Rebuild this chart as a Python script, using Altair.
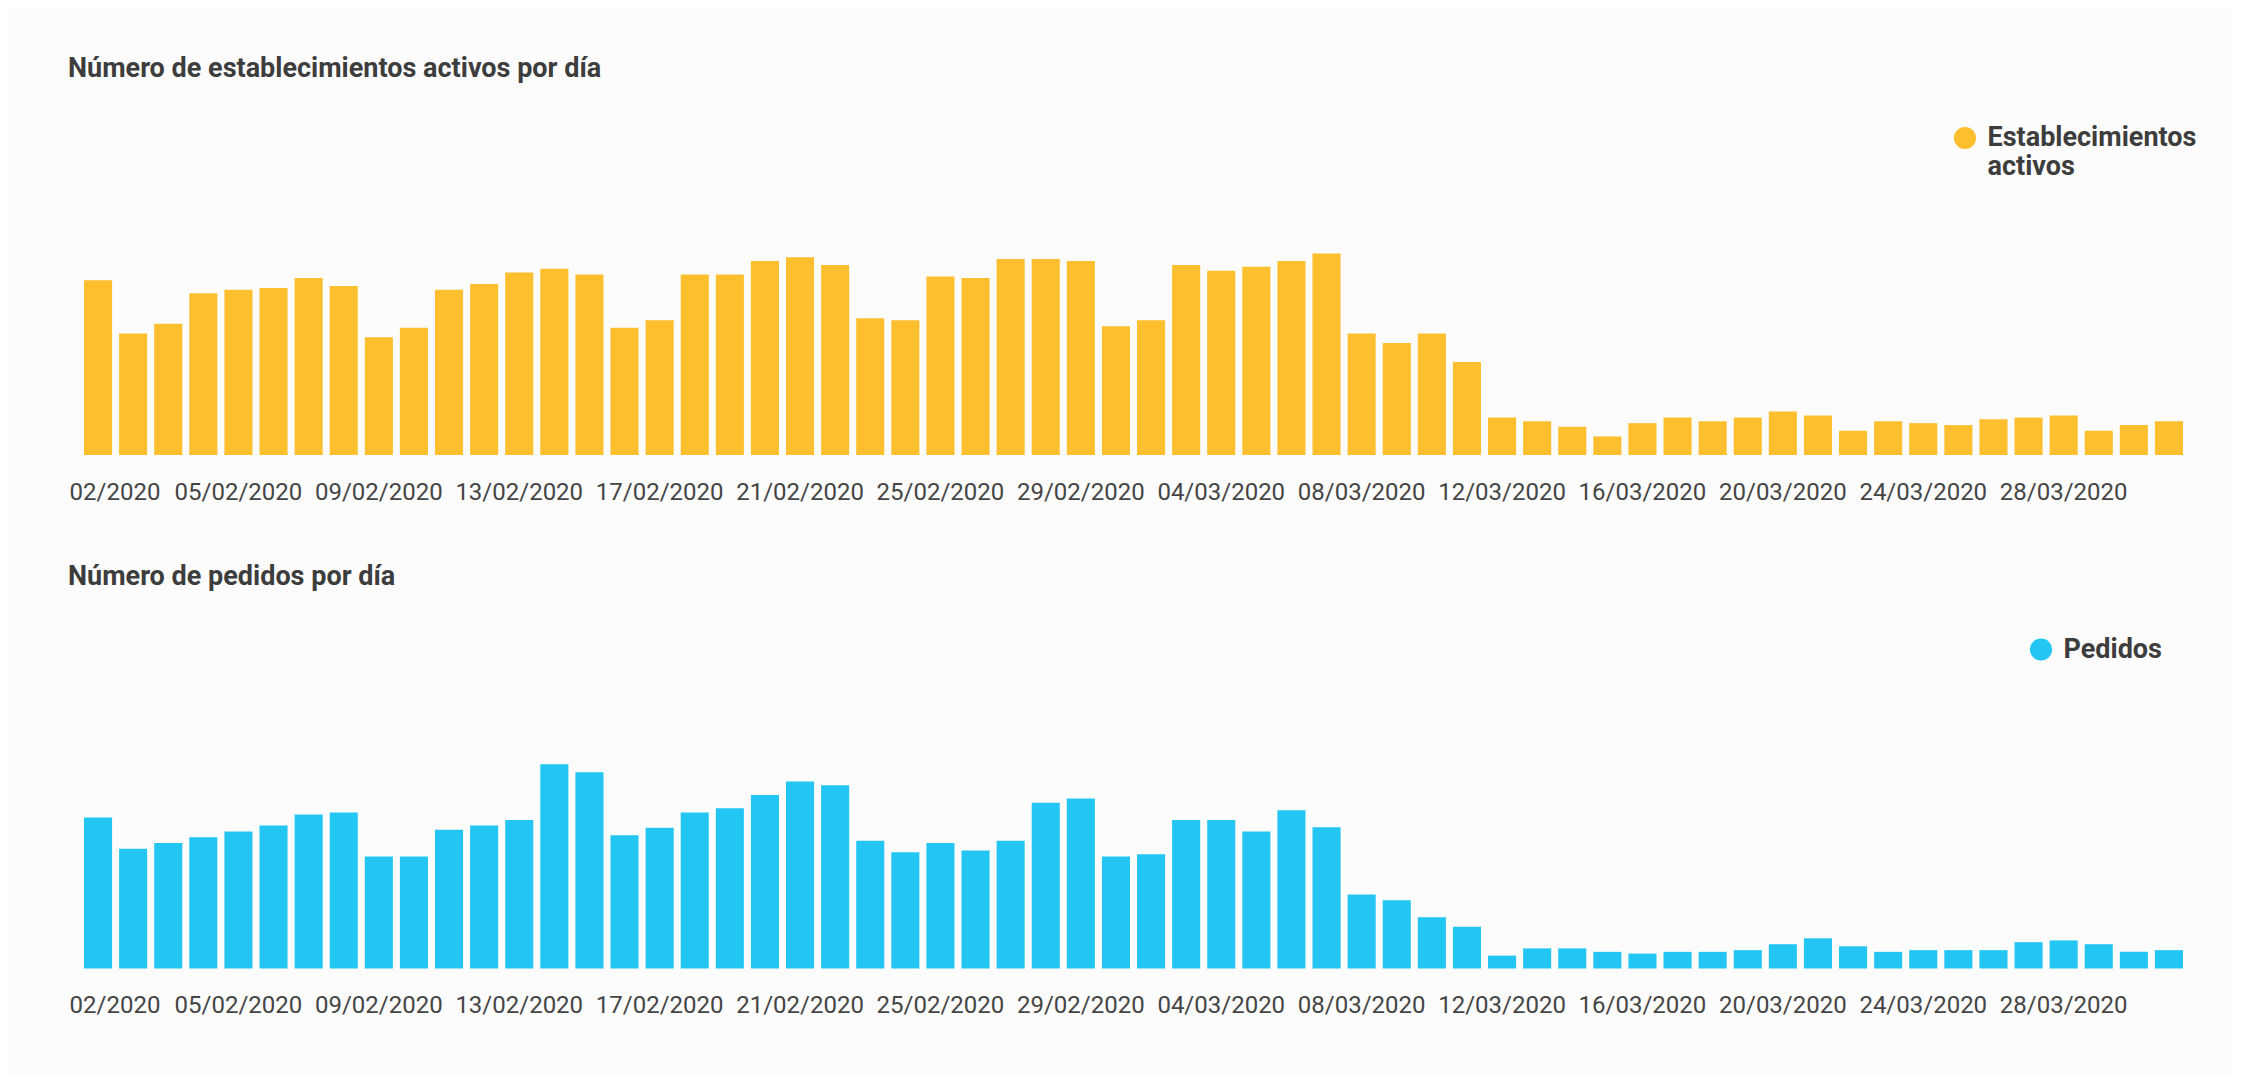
import altair as alt
import pandas as pd

# Categories: one bar per day, 01/02/2020 .. 31/03/2020
fechas = [d.strftime("%d/%m/%Y") for d in pd.date_range("2020-02-01", "2020-03-31", freq="D")]
etiquetas = fechas[::4]

# Values (relative units, no y axis in the original)
establecimientos = [526, 366, 395, 487, 498, 503, 533, 509, 355, 383,
                    498, 515, 550, 561, 544, 383, 406, 544, 544, 584,
                    596, 572, 412, 406, 538, 533, 590, 590, 584, 388,
                    406, 572, 555, 567, 584, 607, 366, 337, 366, 280,
                    113, 102, 85, 56, 96, 113, 102, 113, 131, 119,
                    73, 102, 96, 90, 108, 113, 119, 73, 90, 102]
pedidos = [435, 345, 362, 378, 395, 412, 444, 450, 323, 323,
           400, 412, 428, 589, 566, 384, 406, 450, 462, 500,
           539, 528, 368, 335, 362, 340, 368, 478, 490, 323,
           329, 428, 428, 395, 456, 407, 213, 197, 148, 120,
           37, 58, 58, 48, 43, 48, 48, 53, 70, 87,
           64, 48, 53, 53, 53, 76, 81, 70, 48, 53]

series = ["Establecimientos activos", "Pedidos"]
colores = ["#FDBF2D", "#23C6F3"]
titulos = ["Número de establecimientos activos por día", "Número de pedidos por día"]

TXT = "#3d3d3d"
W, H = 2099, 332


def panel(valores, serie, color, titulo, ymax, lx, ly, toff):
    df = pd.DataFrame({"fecha": fechas, "valor": valores, "serie": serie})
    return (
        alt.Chart(
            df,
            title=alt.TitleParams(
                titulo, anchor="start", frame="group", dx=-16, offset=toff,
                baseline="alphabetic", font="Roboto", fontSize=27,
                fontWeight="bold", color=TXT,
            ),
        )
        .mark_bar(strokeWidth=0)
        .encode(
            x=alt.X(
                "fecha:O", sort=None, title=None,
                scale=alt.Scale(paddingInner=0.2, paddingOuter=0),
                axis=alt.Axis(
                    values=etiquetas, domain=False, ticks=False, tickSize=0,
                    labelPadding=25, labelAngle=0, labelFont="Roboto",
                    labelFontSize=24, labelColor="#454545", labelOverlap=False,
                    labelExpr="datum.value == '01/02/2020' ? '02/2020' : datum.label",
                    labelOffset={"condition": {"test": "datum.value == '01/02/2020'", "value": 17}, "value": 0},
                    grid=False,
                ),
            ),
            y=alt.Y("valor:Q", axis=None, scale=alt.Scale(domain=[0, ymax])),
            color=alt.Color(
                "serie:N",
                scale=alt.Scale(domain=[serie], range=[color]),
                legend=alt.Legend(
                    orient="none", legendX=lx, legendY=ly, title=None,
                    symbolType="circle", symbolSize=490, symbolStrokeWidth=0,
                    labelFont="Roboto", labelFontWeight="bold", labelFontSize=27,
                    labelColor=TXT, labelOffset=9, padding=0, labelLimit=500,
                    labelExpr="split(datum.label, ' ')",
                ),
            ),
        )
        .properties(width=W, height=H)
    )


top = panel(establecimientos, series[0], colores[0], titulos[0], 1000, 1867.5, 1.5, 19.5)
bottom = panel(pedidos, series[1], colores[1], titulos[1], 957, 1943.5, -0.5, 24.5)

chart = (
    alt.vconcat(top, bottom, spacing=58.5)
    .resolve_scale(color="independent")
    .properties(background="#fcfcfc", padding={"left": 60, "top": 46, "right": 35, "bottom": 56})
    .configure_view(strokeWidth=0)
)

chart.save("out.html", embed_options={"renderer": "svg", "actions": False})
